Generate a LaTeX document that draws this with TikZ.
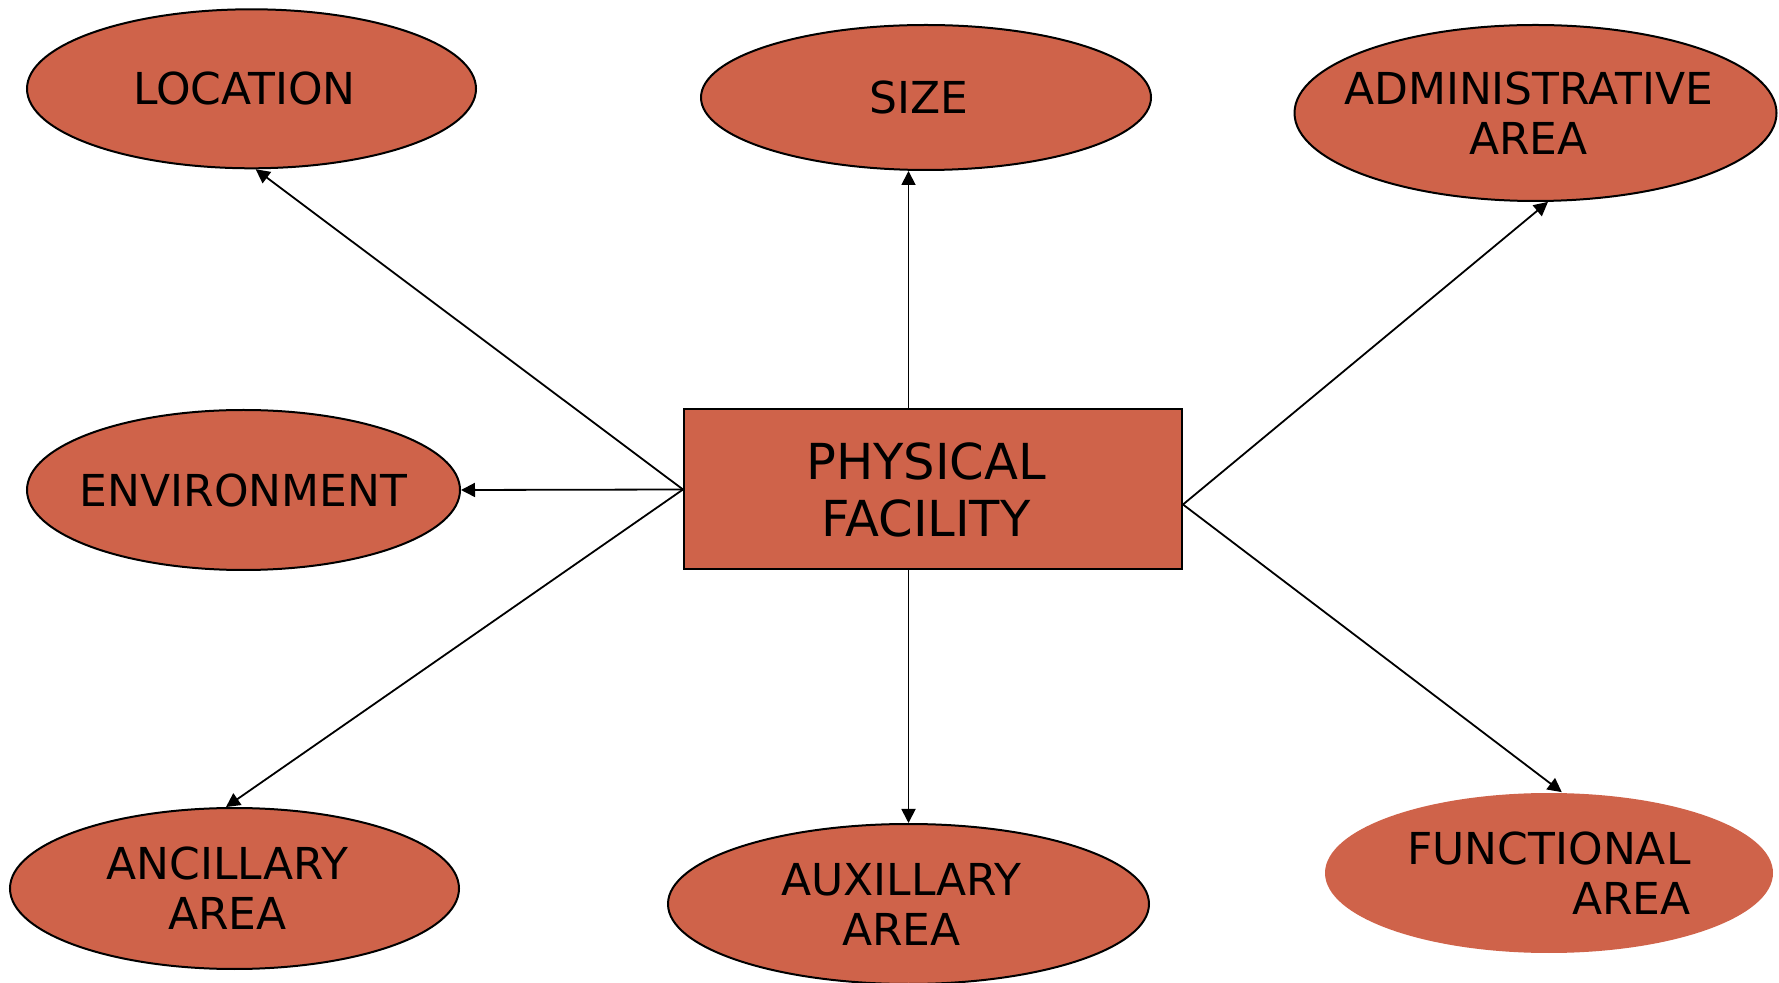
\documentclass[tikz,border=0pt]{standalone}
\usepackage{fontspec}
\setmainfont{DejaVu Sans}
\usetikzlibrary{shapes.geometric,arrows.meta,calc}
\definecolor{fac}{RGB}{207,99,74}
\newcommand\rpad{\hspace*{7pt}}
\begin{document}
\begin{tikzpicture}[x=0.5pt,y=-0.5pt,
  bubble/.style={ellipse,draw=black,line width=1pt,fill=fac,inner ysep=0pt,inner xsep=-25pt,
    font=\fontsize{22}{25}\selectfont,align=center},
  mainbox/.style={rectangle,draw=black,line width=1pt,fill=fac,inner sep=0pt,
    font=\fontsize{24.8}{28.5}\selectfont,align=center},
  conn/.style={line width=0.9pt,-{Triangle[length=7pt,width=7pt]}}]
\useasboundingbox (0,0) rectangle (1779,983);
\node[bubble,minimum width=224.5pt,minimum height=79.5pt] (loc) at (251.5,88.8) {LOCATION\rpad};
\node[bubble,minimum width=225pt,minimum height=72.5pt] (size) at (926,97.5) {SIZE\rpad};
\node[bubble,minimum width=241pt,minimum height=88pt] (admin) at (1535.5,113) {ADMINISTRATIVE\rpad\\AREA\rpad};
\node[bubble,minimum width=216.5pt,minimum height=80pt] (env) at (243.5,490) {ENVIRONMENT};
\node[bubble,minimum width=224.5pt,minimum height=80.5pt] (anc) at (234.5,888.5) {ANCILLARY\rpad\\AREA\rpad};
\node[bubble,minimum width=240.5pt,minimum height=80pt] (aux) at (908.5,904) {AUXILLARY\rpad\\AREA\rpad};
\node[bubble,draw=none,align=right,minimum width=224pt,minimum height=80pt] (func) at (1549,873) {FUNCTIONAL\\AREA};
\node[mainbox,minimum width=249pt,minimum height=80pt] (rect) at (933,489.5) {PHYSICAL\rpad\\FACILITY\rpad};
\coordinate (rj) at ($(rect.east)+(0,15)$);
\draw[conn] (rect.west) -- (loc.273);
\draw[conn] (rect.west) -- (env.east);
\draw[conn] (rect.west) -- (anc.96);
\draw[conn] (rect.north -| aux.north) -- (size.south -| aux.north);
\draw[conn] (rect.south -| aux.north) -- (aux.north);
\draw[conn] (rj) -- (admin.278);
\draw[conn] (rj) -- (func.81);
\end{tikzpicture}
\end{document}
